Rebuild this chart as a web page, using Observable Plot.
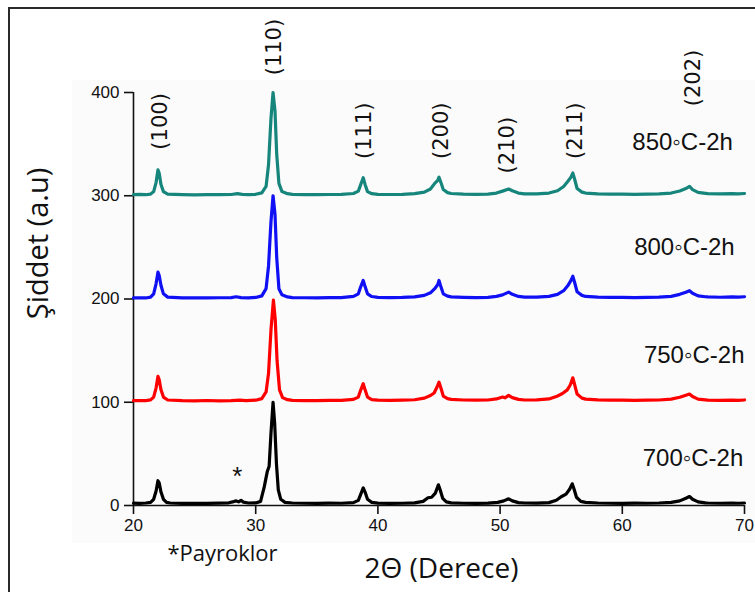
<!DOCTYPE html>
<html>
<head>
<meta charset="utf-8">
<script src="https://cdn.jsdelivr.net/npm/d3@7"></script>
<script src="https://cdn.jsdelivr.net/npm/@observablehq/plot@0.6"></script>
<style>
  html, body { margin: 0; padding: 0; background: #ffffff; }
  #figure { position: relative; width: 755px; height: 592px; overflow: hidden; }
  #panel { position: absolute; left: 72px; top: 80px; width: 683px; height: 463px; background: #fbfbfb; }
  #frame { position: absolute; left: 8px; top: 7px; width: 760px; height: 600px;
           border-left: 2px solid #2a2a2a; border-top: 2px solid #2a2a2a; }
  #chart { position: absolute; left: 0; top: 0; }
</style>
</head>
<body>
<div id="figure">
  <div id="panel"></div>
  <div id="frame"></div>
  <div id="chart"></div>
</div>
<script>
// XRD scans (2θ in degrees, intensity in a.u., each pattern stacked by +100)
const scan700 = [
  [20,2.3],[20.5,2],[21,2.4],[21.4,3],[21.65,6],[21.85,14],[22.0,24],[22.1,22],[22.25,13],[22.45,6],[22.7,3],[23,2.4],
  [24,2],[25,2.2],[26,2],[27,2.3],[27.8,2.6],[28.2,3.8],[28.4,4.5],[28.6,3.5],[28.8,5],[29.0,3.2],[29.4,2.4],
  [30,2.5],[30.4,4],[30.7,18],[30.95,33],[31.1,38],[31.25,70],[31.42,100],[31.55,80],[31.7,40],[31.85,15],[32.05,6],[32.4,3],
  [33,2.4],[34,2.2],[35,2],[36,2.3],[37,2.2],[38,2.8],[38.4,5],[38.6,11],[38.8,17],[38.95,13],[39.15,6],[39.5,3],
  [40,2.3],[41,2],[42,2.2],[43,2.5],[43.7,4],[44.1,7.5],[44.4,8],[44.7,12],[44.95,20],[45.1,15],[45.3,7],[45.6,3.5],[46,2.6],
  [47,2.2],[48,2],[49,2.3],[49.8,3],[50.3,4.5],[50.7,6.5],[51.0,4.5],[51.5,2.8],[52,2.4],
  [53,2.3],[54,2.8],[54.6,5],[55.0,8.5],[55.4,11],[55.7,16],[55.9,21],[56.05,16],[56.25,8],[56.6,4],[57,3],
  [58,2.4],[59,2.2],[60,2],[61,2.3],[62,2.2],[63,2.4],[64,3],[64.7,4.5],[65.2,7],[65.5,8.7],[65.75,6],[66.2,3.5],[66.8,2.6],
  [67,2.4],[68,2.2],[69,2.4],[69.5,2.2],[70,2.4]
];
const scan750 = [
  [20,101.5],[20.5,101.7],[21,101.5],[21.4,102.3],[21.65,105],[21.85,114],[22.0,125],[22.1,122],[22.25,112],[22.45,105],[22.8,102.2],
  [24,101.6],[25,101.4],[26,101.7],[27,101.4],[28,101.6],[28.7,102],[29.2,101.6],
  [30,102],[30.5,103.5],[30.85,110],[31.05,128],[31.25,170],[31.45,199],[31.6,180],[31.75,140],[31.95,112],[32.2,104.5],[32.6,102.5],
  [33,101.8],[34,101.6],[35,101.5],[36,101.8],[37,101.8],[38,102.8],[38.4,105],[38.6,112],[38.8,118],[38.95,112],[39.15,105],[39.5,102.6],
  [40,102],[41,101.8],[42,102],[43,102.4],[43.8,104],[44.3,106.5],[44.6,109],[44.85,115],[45.0,119.5],[45.15,114],[45.35,106],[45.7,103.5],[46,102.8],
  [47,102.2],[48,102],[49,102.2],[49.7,103.2],[50.2,105],[50.4,104.3],[50.7,106.6],[51.0,104.5],[51.5,102.8],[52,102.2],
  [53,102.3],[54,103.2],[54.6,105.5],[55.1,108.5],[55.5,112],[55.75,117],[55.95,123.7],[56.1,117],[56.3,108],[56.7,104],[57,103],
  [58,102.3],[59,102],[60,102],[61,101.8],[62,102],[63,102.2],[64,103],[64.7,104.8],[65.2,106.8],[65.5,108],[65.75,105.5],[66.2,103],[66.8,102.3],
  [67,102],[68,101.8],[69,102],[69.5,101.8],[70,102.2]
];
const scan800 = [
  [20,201],[20.5,201.2],[21,201],[21.4,201.8],[21.65,205],[21.85,215],[22.0,226],[22.1,223],[22.25,213],[22.45,205],[22.8,201.8],
  [24,201],[25,201.2],[26,201],[27,201.2],[28,201.3],[28.4,202.2],[28.8,201.4],[29.4,201],
  [30,201.5],[30.5,203],[30.85,210],[31.05,232],[31.25,275],[31.42,300],[31.58,282],[31.72,240],[31.9,210],[32.15,204],[32.6,202],
  [33,201.4],[34,201.2],[35,201],[36,201.3],[37,201.4],[38,202.5],[38.4,205],[38.6,212],[38.8,218],[38.95,212],[39.15,205],[39.5,202.4],
  [40,201.6],[41,201.3],[42,201.5],[43,202],[43.8,203.5],[44.3,206],[44.65,210],[44.9,214],[45.0,218],[45.15,212],[45.35,205],[45.7,202.8],[46,202],
  [47,201.6],[48,201.4],[49,201.6],[49.7,202.5],[50.2,204],[50.7,206.7],[51.0,204.5],[51.5,202.5],[52,201.8],
  [53,201.9],[54,202.6],[54.7,204.5],[55.2,208],[55.55,213],[55.8,218],[55.95,222],[56.1,216],[56.3,207],[56.7,203.5],[57,202.5],
  [58,201.8],[59,201.6],[60,201.5],[61,201.4],[62,201.6],[63,201.8],[64,202.6],[64.7,204.5],[65.2,206.5],[65.5,208],[65.75,205.5],[66.2,203],[66.8,202.2],
  [67,202],[68,201.7],[69,202],[69.5,201.8],[70,202.2]
];
const scan850 = [
  [20,301],[20.5,301.3],[21,301],[21.4,301.6],[21.65,304],[21.85,313],[22.0,325],[22.1,322],[22.25,311],[22.45,304],[22.8,301.5],
  [24,301],[25,300.8],[26,301],[27,301],[28,301.2],[28.5,302],[28.9,301.3],[29.4,301],
  [30,301.4],[30.5,302.8],[30.85,309],[31.05,330],[31.25,375],[31.42,400],[31.58,382],[31.72,340],[31.9,312],[32.15,304],[32.6,302],
  [33,301.3],[34,301],[35,301],[36,301.2],[37,301.4],[38,302.2],[38.4,304.5],[38.6,311],[38.8,317.5],[38.95,311],[39.15,304],[39.5,302],
  [40,301.4],[41,301.2],[42,301.4],[43,302],[43.8,303.5],[44.3,306.5],[44.65,312],[44.9,315],[45.0,318],[45.15,313],[45.35,306],[45.7,303],[46,302.2],
  [47,301.6],[48,301.4],[49,301.6],[49.7,302.6],[50.2,304.5],[50.7,306.5],[51.0,304.8],[51.5,302.6],[52,301.9],
  [53,301.9],[54,302.6],[54.7,304.8],[55.2,309],[55.55,314],[55.8,318],[55.95,322],[56.1,316],[56.3,307],[56.7,303.5],[57,302.6],
  [58,301.8],[59,301.6],[60,301.5],[61,301.4],[62,301.6],[63,301.8],[64,302.6],[64.7,304.6],[65.2,307],[65.5,309],[65.75,306],[66.2,303.2],[66.8,302.3],
  [67,302],[68,301.8],[69,302],[69.5,301.8],[70,302.2]
];

// Stroke colour per annealing temperature
const scans = [
  {temp: "700", color: "#000000", points: scan700},
  {temp: "750", color: "#ff0000", points: scan750},
  {temp: "800", color: "#1010f5", points: scan800},
  {temp: "850", color: "#16867c", points: scan850}
];

// Miller indices placed above their reflections
const hklText = ["(100)", "(110)", "(111)", "(200)", "(210)", "(211)", "(202)"];
const hklTwoTheta = [22.2, 31.5, 38.85, 45.2, 50.6, 56.15, 65.8];
const hklLevel = [372, 444, 363, 363, 349, 363, 414];

// Sample labels (right aligned)
const tempText = ["850\u25E6C-2h", "800\u25E6C-2h", "750\u25E6C-2h", "700\u25E6C-2h"];
const tempTwoTheta = [69.05, 69.2, 70.0, 69.9];
const tempLevel = [352, 250, 145, 45.5];

// Impurity phase marker
const starTwoTheta = [28.5];
const starLevel = [28];

const xTicks = [20, 30, 40, 50, 60, 70];
const yTicks = [0, 100, 200, 300, 400];

const lineRows = scans.flatMap(s => s.points.map(([t, i]) => ({t, i, temp: s.temp, color: s.color})));
const hklRows = hklText.map((h, k) => ({h, t: hklTwoTheta[k], y: hklLevel[k]}));
const tempRows = tempText.map((s, k) => ({s, t: tempTwoTheta[k], y: tempLevel[k]}));
const starRows = starTwoTheta.map((t, k) => ({t, y: starLevel[k]}));

const plot = Plot.plot({
  width: 755,
  height: 592,
  marginLeft: 133,
  marginRight: 11,
  marginTop: 92,
  marginBottom: 87,
  style: {background: "transparent", fontFamily: "'Liberation Sans', Arial, sans-serif", fontSize: "17px", color: "#111"},
  x: {domain: [20, 70]},
  y: {domain: [0, 400]},
  marks: [
    Plot.ruleX([20], {stroke: "#111", strokeWidth: 1.6}),
    Plot.ruleY([0], {stroke: "#111", strokeWidth: 1.6}),
    Plot.axisX({ticks: xTicks, tickSize: 9, tickPadding: 4, strokeWidth: 1.6, label: null, fontSize: 17}),
    Plot.axisY({ticks: yTicks, tickSize: 9, tickPadding: 5, strokeWidth: 1.6, label: null, fontSize: 17}),
    Plot.line(lineRows, {x: "t", y: "i", z: "temp", stroke: "color", strokeWidth: 3.2, strokeLinejoin: "round", curve: "linear"}),
    Plot.text(hklRows, {x: "t", y: "y", text: "h", rotate: -90, fontSize: 21, fontFamily: "'DejaVu Sans', sans-serif", fill: "#111"}),
    Plot.text(tempRows, {x: "t", y: "y", text: "s", textAnchor: "end", fontSize: 24, fontFamily: "'Liberation Sans', Arial, sans-serif", fill: "#111"}),
    Plot.text(starRows, {x: "t", y: "y", text: () => "*", fontSize: 26, fontFamily: "'Liberation Sans', Arial, sans-serif", fill: "#111"}),
    Plot.text(["Şiddet (a.u)"], {frameAnchor: "top-left", dx: -95, dy: 151, rotate: -90, textAnchor: "middle", lineAnchor: "middle", fontSize: 29, fontFamily: "'Open Sans', sans-serif", fill: "#111"}),
    Plot.text(["2\u0398 (Derece)"], {frameAnchor: "top-left", dx: 308, dy: 477, textAnchor: "middle", lineAnchor: "middle", fontSize: 28, fontFamily: "'Open Sans', sans-serif", fill: "#111"}),
    Plot.text(["*Payroklor"], {frameAnchor: "top-left", dx: 89, dy: 461, textAnchor: "middle", lineAnchor: "middle", fontSize: 22, fontFamily: "'Open Sans', sans-serif", fill: "#111"})
  ]
});
document.getElementById("chart").appendChild(plot);
</script>
</body>
</html>
